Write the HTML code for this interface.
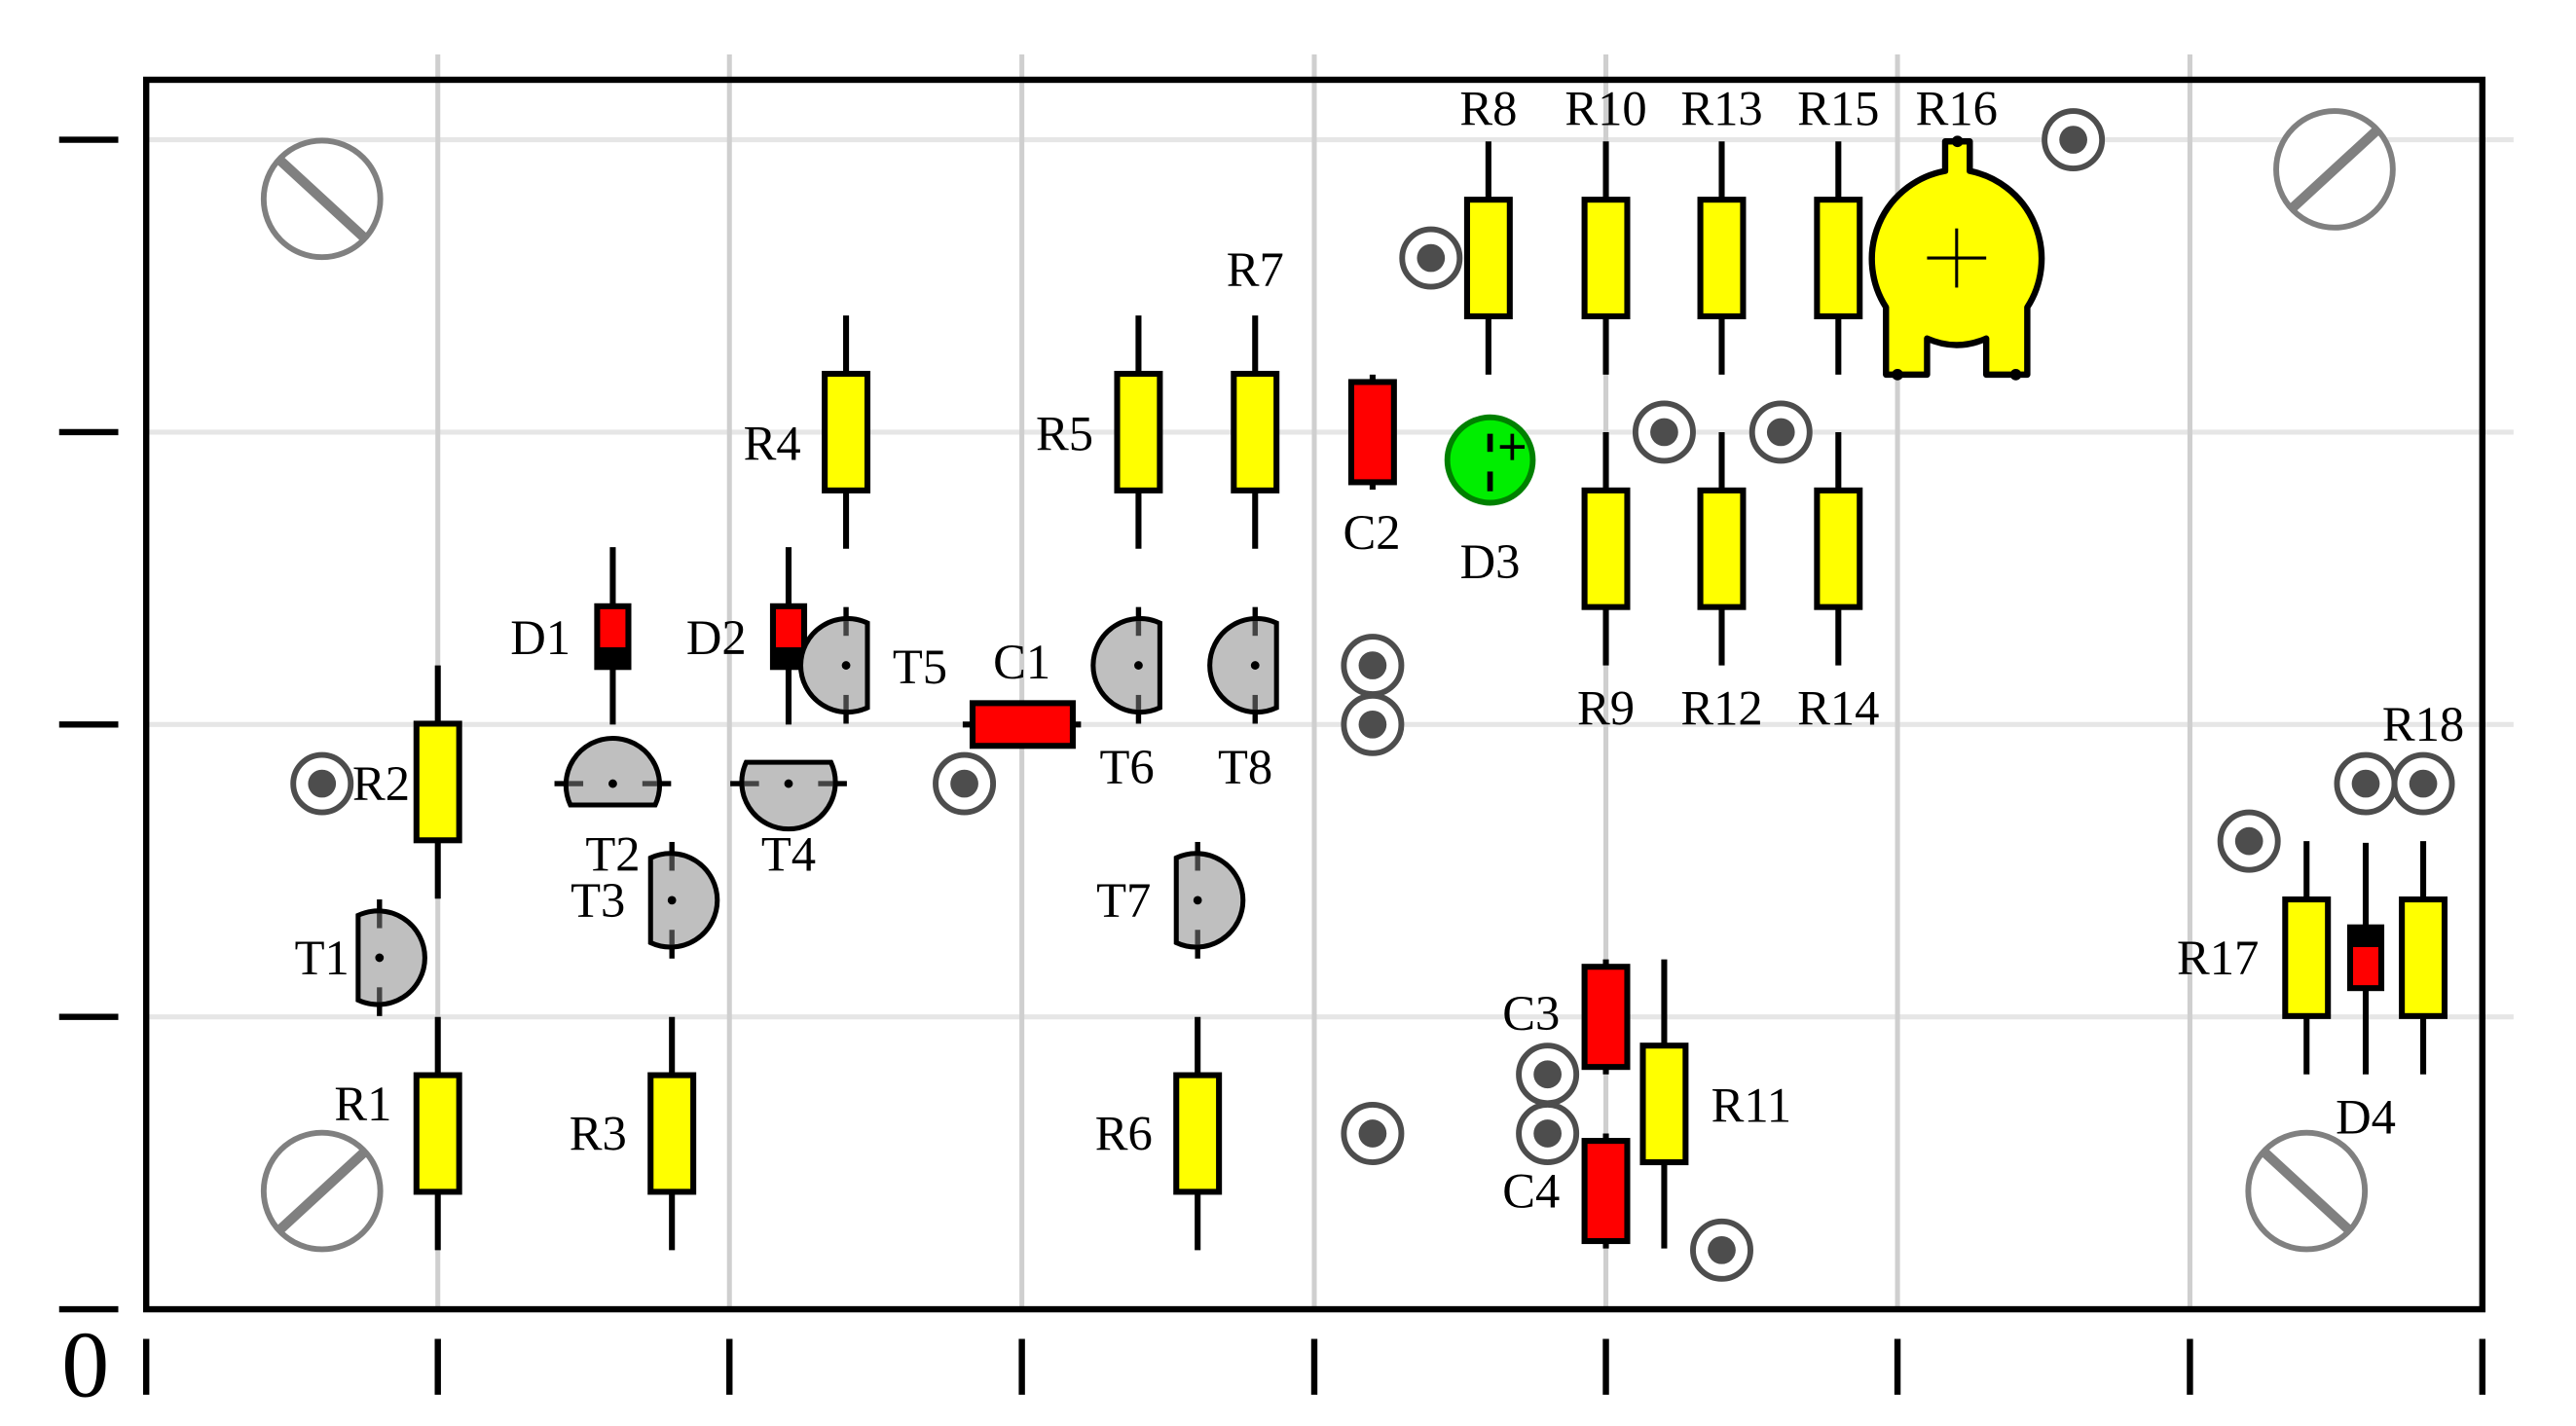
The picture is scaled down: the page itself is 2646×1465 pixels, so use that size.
<!DOCTYPE html>
<html><head><meta charset="utf-8"><style>html,body{margin:0;padding:0;background:#fff}svg{display:block}</style></head>
<body>
<svg xmlns="http://www.w3.org/2000/svg" xmlns:xlink="http://www.w3.org/1999/xlink" width="2646" height="1465" viewBox="0 0 1568 868">
<defs>
<g id="res"><line x1="0" y1="-71" x2="0" y2="71" stroke="#000" stroke-width="3.6"/><rect x="-13" y="-35.5" width="26" height="71" fill="#ff0" stroke="#000" stroke-width="3.6"/></g>
<g id="res2"><line x1="0" y1="-88" x2="0" y2="88" stroke="#000" stroke-width="3.6"/><rect x="-13" y="-35.5" width="26" height="71" fill="#ff0" stroke="#000" stroke-width="3.6"/></g>
<g id="tp"><circle r="17.5" fill="#fff" stroke="#4d4d4d" stroke-width="3.5"/><circle r="8.5" fill="#4d4d4d"/></g>
<g id="dio"><line x1="0" y1="-54" x2="0" y2="54" stroke="#000" stroke-width="3.6"/><rect x="-9.5" y="-18" width="19" height="37" fill="#f00" stroke="#000" stroke-width="3.6"/><rect x="-9.5" y="7" width="19" height="12" fill="#000"/></g>
<g id="capv"><line x1="0" y1="-35" x2="0" y2="35" stroke="#000" stroke-width="3.6"/><rect x="-13" y="-30.5" width="26" height="61" fill="#f00" stroke="#000" stroke-width="3.6"/></g>
<g id="tL"><path d="M-13,-25.8 A28.5 28.5 0 1 1 -13,25.8 Z" fill="#bfbfbf" stroke="#000" stroke-width="3"/>
<line x1="0" y1="-35.5" x2="0" y2="-27" stroke="#000" stroke-width="3.2"/><line x1="0" y1="27" x2="0" y2="35.5" stroke="#000" stroke-width="3.2"/>
<line x1="0" y1="-27" x2="0" y2="-18" stroke="#444" stroke-width="3.2"/><line x1="0" y1="18" x2="0" y2="27" stroke="#444" stroke-width="3.2"/><circle r="2.6" fill="#000"/></g>
<g id="tR"><path d="M13,-25.8 A28.5 28.5 0 1 0 13,25.8 Z" fill="#bfbfbf" stroke="#000" stroke-width="3"/>
<line x1="0" y1="-35.5" x2="0" y2="-27" stroke="#000" stroke-width="3.2"/><line x1="0" y1="27" x2="0" y2="35.5" stroke="#000" stroke-width="3.2"/>
<line x1="0" y1="-27" x2="0" y2="-18" stroke="#444" stroke-width="3.2"/><line x1="0" y1="18" x2="0" y2="27" stroke="#444" stroke-width="3.2"/><circle r="2.6" fill="#000"/></g>
<g id="tB"><path d="M-25.8,13 A28.5 28.5 0 1 1 25.8,13 Z" fill="#bfbfbf" stroke="#000" stroke-width="3"/>
<line x1="-35.5" y1="0" x2="-27" y2="0" stroke="#000" stroke-width="3.2"/><line x1="27" y1="0" x2="35.5" y2="0" stroke="#000" stroke-width="3.2"/>
<line x1="-27" y1="0" x2="-18" y2="0" stroke="#444" stroke-width="3.2"/><line x1="18" y1="0" x2="27" y2="0" stroke="#444" stroke-width="3.2"/><circle r="2.6" fill="#000"/></g>
<g id="tT"><path d="M-25.8,-13 A28.5 28.5 0 1 0 25.8,-13 Z" fill="#bfbfbf" stroke="#000" stroke-width="3"/>
<line x1="-35.5" y1="0" x2="-27" y2="0" stroke="#000" stroke-width="3.2"/><line x1="27" y1="0" x2="35.5" y2="0" stroke="#000" stroke-width="3.2"/>
<line x1="-27" y1="0" x2="-18" y2="0" stroke="#444" stroke-width="3.2"/><line x1="18" y1="0" x2="27" y2="0" stroke="#444" stroke-width="3.2"/><circle r="2.6" fill="#000"/></g>
<g id="scrB"><circle r="35.5" fill="#fff" stroke="#808080" stroke-width="3.5"/><line x1="-25" y1="-23" x2="25" y2="23" stroke="#808080" stroke-width="6"/></g>
<g id="scrF"><circle r="35.5" fill="#fff" stroke="#808080" stroke-width="3.5"/><line x1="-25" y1="23" x2="25" y2="-23" stroke="#808080" stroke-width="6"/></g>
</defs>

<g stroke="#e6e6e6" stroke-width="3">
<line x1="89" y1="85" x2="1530" y2="85"/><line x1="89" y1="263" x2="1530" y2="263"/><line x1="89" y1="441" x2="1530" y2="441"/><line x1="89" y1="619" x2="1530" y2="619"/>
</g>
<g stroke="#cfcfcf" stroke-width="3">
<line x1="266.5" y1="33" x2="266.5" y2="797"/><line x1="444" y1="33" x2="444" y2="797"/><line x1="622" y1="33" x2="622" y2="797"/><line x1="800" y1="33" x2="800" y2="797"/><line x1="977.5" y1="33" x2="977.5" y2="797"/><line x1="1155" y1="33" x2="1155" y2="797"/><line x1="1333" y1="33" x2="1333" y2="797"/>
</g>
<rect x="89" y="48.5" width="1422" height="748.5" fill="none" stroke="#000" stroke-width="3.8"/>
<g stroke="#000" stroke-width="3.8">
<line x1="36" y1="85" x2="72" y2="85"/><line x1="36" y1="263" x2="72" y2="263"/><line x1="36" y1="441" x2="72" y2="441"/><line x1="36" y1="619" x2="72" y2="619"/><line x1="36" y1="797" x2="72" y2="797"/>
<line x1="89" y1="815" x2="89" y2="849"/><line x1="266.5" y1="815" x2="266.5" y2="849"/><line x1="444" y1="815" x2="444" y2="849"/><line x1="622" y1="815" x2="622" y2="849"/><line x1="800" y1="815" x2="800" y2="849"/><line x1="977.5" y1="815" x2="977.5" y2="849"/><line x1="1155" y1="815" x2="1155" y2="849"/><line x1="1333" y1="815" x2="1333" y2="849"/><line x1="1511" y1="815" x2="1511" y2="849"/>
</g>
<text x="52" y="850" font-family="Liberation Serif, serif" font-size="58" text-anchor="middle">0</text>

<use xlink:href="#scrB" x="196" y="121"/>
<use xlink:href="#scrF" x="1421" y="103"/>
<use xlink:href="#scrF" x="196" y="725"/>
<use xlink:href="#scrB" x="1404" y="725"/>

<use xlink:href="#res" x="266.5" y="690"/>
<use xlink:href="#res" x="266.5" y="476"/>
<use xlink:href="#res" x="409" y="690"/>
<use xlink:href="#res" x="515" y="263"/>
<use xlink:href="#res" x="693" y="263"/>
<use xlink:href="#res" x="729" y="690"/>
<use xlink:href="#res" x="764" y="263"/>
<use xlink:href="#res" x="906" y="157"/>
<use xlink:href="#res" x="977.5" y="157"/>
<use xlink:href="#res" x="1048" y="157"/>
<use xlink:href="#res" x="1119" y="157"/>
<use xlink:href="#res" x="977.5" y="334"/>
<use xlink:href="#res" x="1048" y="334"/>
<use xlink:href="#res" x="1119" y="334"/>
<use xlink:href="#res2" x="1013" y="672"/>
<use xlink:href="#res" x="1404" y="583"/>
<use xlink:href="#res" x="1475" y="583"/>

<use xlink:href="#dio" x="373" y="387"/>
<use xlink:href="#dio" x="480" y="387"/>
<g transform="translate(1440,583)"><line x1="0" y1="-70" x2="0" y2="71" stroke="#000" stroke-width="3.6"/><rect x="-9.5" y="-18.5" width="19" height="37" fill="#f00" stroke="#000" stroke-width="3.6"/><rect x="-9.5" y="-18.5" width="19" height="12" fill="#000"/></g>

<use xlink:href="#capv" x="835.5" y="263"/>
<use xlink:href="#capv" x="977.5" y="619"/>
<use xlink:href="#capv" x="977.5" y="725"/>
<g><line x1="586" y1="441" x2="658" y2="441" stroke="#000" stroke-width="3.6"/><rect x="592" y="428" width="61" height="26" fill="#f00" stroke="#000" stroke-width="3.6"/></g>

<circle cx="907" cy="280" r="26" fill="#00ee00" stroke="#008000" stroke-width="3.5"/>
<line x1="907" y1="264" x2="907" y2="275" stroke="#000" stroke-width="3.4"/>
<line x1="907" y1="287" x2="907" y2="299" stroke="#000" stroke-width="3.4"/>
<line x1="913" y1="272" x2="928" y2="272" stroke="#000" stroke-width="2.2"/>
<line x1="920.5" y1="264" x2="920.5" y2="280" stroke="#000" stroke-width="2.2"/>

<use xlink:href="#tL" x="231" y="583"/>
<use xlink:href="#tL" x="409" y="548"/>
<use xlink:href="#tL" x="729" y="548"/>
<use xlink:href="#tR" x="515" y="405"/>
<use xlink:href="#tR" x="693" y="405"/>
<use xlink:href="#tR" x="764" y="405"/>
<use xlink:href="#tB" x="373" y="477"/>
<use xlink:href="#tT" x="480" y="477"/>

<path d="M1184,104 L1184,86 L1199,86 L1199,104 A54.5 54.5 0 0 1 1234,187 L1234,228 L1209,228 L1209,206 Q1191,214 1173,206 L1173,228 L1148,228 L1148,187 A54.5 54.5 0 0 1 1184,104 Z" fill="#ff0" stroke="#000" stroke-width="3.8" stroke-linejoin="round"/>
<line x1="1173" y1="157" x2="1209" y2="157" stroke="#000" stroke-width="1.8"/>
<line x1="1191" y1="139" x2="1191" y2="175" stroke="#000" stroke-width="1.8"/>
<circle cx="1191.5" cy="86" r="3.5"/><circle cx="1155" cy="228" r="3.5"/><circle cx="1227" cy="228" r="3.5"/>

<use xlink:href="#tp" x="196" y="477"/>
<use xlink:href="#tp" x="587" y="477"/>
<use xlink:href="#tp" x="835.5" y="405"/>
<use xlink:href="#tp" x="835.5" y="441"/>
<use xlink:href="#tp" x="835.5" y="690"/>
<use xlink:href="#tp" x="871" y="157"/>
<use xlink:href="#tp" x="1013" y="263"/>
<use xlink:href="#tp" x="1084" y="263"/>
<use xlink:href="#tp" x="942" y="654"/>
<use xlink:href="#tp" x="942" y="690"/>
<use xlink:href="#tp" x="1048" y="761"/>
<use xlink:href="#tp" x="1262" y="85"/>
<use xlink:href="#tp" x="1369" y="512"/>
<use xlink:href="#tp" x="1440" y="477"/>
<use xlink:href="#tp" x="1475" y="477"/>

<g font-family="Liberation Serif, serif" font-size="30" text-anchor="middle" fill="#000">
<text x="221" y="682">R1</text>
<text x="232" y="487">R2</text>
<text x="364" y="700">R3</text>
<text x="470" y="280">R4</text>
<text x="648" y="274">R5</text>
<text x="684" y="700">R6</text>
<text x="764" y="174">R7</text>
<text x="906" y="76">R8</text>
<text x="977.5" y="76">R10</text>
<text x="1048" y="76">R13</text>
<text x="1119" y="76">R15</text>
<text x="1191" y="76">R16</text>
<text x="977.5" y="441">R9</text>
<text x="1048" y="441">R12</text>
<text x="1119" y="441">R14</text>
<text x="1066" y="683">R11</text>
<text x="1350" y="593">R17</text>
<text x="1475" y="451">R18</text>
<text x="329" y="398">D1</text>
<text x="436" y="398">D2</text>
<text x="907" y="352">D3</text>
<text x="1440" y="690">D4</text>
<text x="622" y="413">C1</text>
<text x="835" y="334">C2</text>
<text x="932" y="627">C3</text>
<text x="932" y="735">C4</text>
<text x="196" y="593">T1</text>
<text x="373" y="530">T2</text>
<text x="364" y="558">T3</text>
<text x="480" y="530">T4</text>
<text x="560" y="416">T5</text>
<text x="686" y="477">T6</text>
<text x="684" y="558">T7</text>
<text x="758" y="477">T8</text>
</g>
</svg>
</body></html>
